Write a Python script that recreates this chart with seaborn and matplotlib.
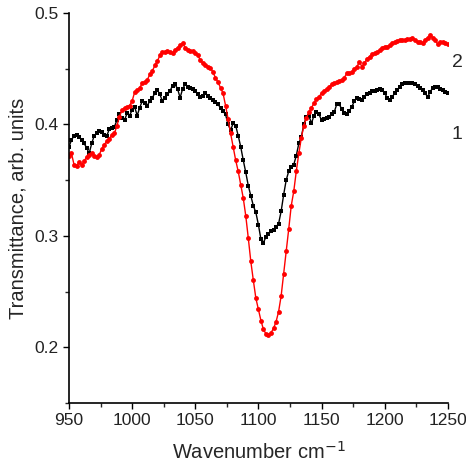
import numpy as np
import pandas as pd
import seaborn as sns
import matplotlib.pyplot as plt
from matplotlib.ticker import MultipleLocator

# wavenumber grid, cm-1 (one point every 2 cm-1)
wavenumber = list(range(950, 1252, 2))

# curve 1 (black)
trans_1 = [
    0.380, 0.386, 0.390, 0.391, 0.389, 0.386, 0.383, 0.379, 0.374, 0.383,
    0.390, 0.392, 0.394, 0.393, 0.391, 0.390, 0.396, 0.397, 0.398, 0.404,
    0.409, 0.406, 0.404, 0.410, 0.408, 0.413, 0.416, 0.408, 0.415, 0.421,
    0.419, 0.417, 0.421, 0.424, 0.428, 0.431, 0.427, 0.421, 0.424, 0.427,
    0.430, 0.435, 0.436, 0.432, 0.424, 0.432, 0.436, 0.434, 0.433, 0.432,
    0.430, 0.427, 0.425, 0.426, 0.428, 0.426, 0.424, 0.422, 0.420, 0.418,
    0.415, 0.412, 0.409, 0.400, 0.395, 0.401, 0.399, 0.390, 0.380, 0.368,
    0.357, 0.345, 0.336, 0.327, 0.321, 0.310, 0.297, 0.294, 0.299, 0.302,
    0.304, 0.305, 0.308, 0.311, 0.322, 0.337, 0.350, 0.358, 0.362, 0.364,
    0.372, 0.383, 0.389, 0.400, 0.407, 0.408, 0.401, 0.408, 0.411, 0.409,
    0.404, 0.405, 0.406, 0.407, 0.409, 0.411, 0.418, 0.418, 0.414, 0.410,
    0.409, 0.412, 0.416, 0.421, 0.424, 0.423, 0.422, 0.425, 0.427, 0.428,
    0.430, 0.430, 0.431, 0.432, 0.431, 0.428, 0.424, 0.422, 0.425, 0.428,
    0.431, 0.434, 0.436, 0.437, 0.437, 0.437, 0.437, 0.436, 0.435, 0.433,
    0.431, 0.428, 0.425, 0.429, 0.433, 0.434, 0.434, 0.432, 0.431, 0.429,
    0.428,
]

# curve 2 (red)
trans_2 = [
    0.372, 0.374, 0.364, 0.363, 0.366, 0.364, 0.367, 0.371, 0.373, 0.374,
    0.372, 0.371, 0.373, 0.378, 0.382, 0.385, 0.387, 0.391, 0.392, 0.399,
    0.407, 0.413, 0.415, 0.416, 0.417, 0.421, 0.429, 0.431, 0.433, 0.437,
    0.438, 0.440, 0.445, 0.448, 0.453, 0.457, 0.462, 0.465, 0.465, 0.466,
    0.465, 0.464, 0.467, 0.469, 0.471, 0.473, 0.469, 0.467, 0.466, 0.466,
    0.464, 0.462, 0.458, 0.455, 0.453, 0.452, 0.451, 0.447, 0.442, 0.438,
    0.433, 0.428, 0.417, 0.405, 0.392, 0.380, 0.368, 0.358, 0.346, 0.334,
    0.318, 0.298, 0.277, 0.260, 0.244, 0.234, 0.224, 0.216, 0.212, 0.211,
    0.213, 0.217, 0.223, 0.232, 0.246, 0.266, 0.286, 0.306, 0.327, 0.340,
    0.358, 0.374, 0.388, 0.399, 0.406, 0.411, 0.415, 0.419, 0.423, 0.425,
    0.428, 0.430, 0.432, 0.434, 0.436, 0.437, 0.438, 0.439, 0.440, 0.442,
    0.446, 0.446, 0.447, 0.450, 0.452, 0.456, 0.452, 0.455, 0.459, 0.461,
    0.463, 0.464, 0.465, 0.467, 0.469, 0.470, 0.470, 0.471, 0.473, 0.474,
    0.475, 0.476, 0.476, 0.476, 0.477, 0.477, 0.478, 0.476, 0.474, 0.474,
    0.473, 0.476, 0.478, 0.480, 0.478, 0.476, 0.472, 0.474, 0.474, 0.473,
    0.472,
]

df = pd.DataFrame({'wavenumber': wavenumber, 'curve1': trans_1, 'curve2': trans_2})

sns.set_style('ticks')
plt.rcParams['font.family'] = ['Liberation Sans', 'DejaVu Sans']

fig = plt.figure(figsize=(4.66, 4.68), dpi=100)
ax = fig.add_axes([0.148, 0.139, 0.813, 0.833])

sns.lineplot(data=df, x='wavenumber', y='curve1', ax=ax, color='black',
             marker='s', markersize=3, markeredgewidth=0, linewidth=1)
sns.lineplot(data=df, x='wavenumber', y='curve2', ax=ax, color='red',
             marker='o', markersize=3.5, markeredgewidth=0, linewidth=1)

ax.set_xlim(950, 1250)
ax.set_ylim(0.15, 0.5)
ax.xaxis.set_major_locator(MultipleLocator(50))
ax.xaxis.set_minor_locator(MultipleLocator(25))
ax.yaxis.set_major_locator(MultipleLocator(0.1))
ax.yaxis.set_minor_locator(MultipleLocator(0.05))
ax.tick_params(which='major', direction='out', length=4, width=1, labelsize=12.5,
               colors='black', labelcolor='#222222')
ax.tick_params(which='minor', direction='out', length=3, width=1)
ax.set_yticks([0.2, 0.3, 0.4, 0.5])
ax.set_yticklabels(['0.2', '0.3', '0.4', '0.5'])
for side in ['top', 'right']:
    ax.spines[side].set_visible(False)
for side in ['left', 'bottom']:
    ax.spines[side].set_linewidth(1.2)
    ax.spines[side].set_color('black')

ax.set_xlabel('Wavenumber cm$^{-1}$', fontsize=14.5, labelpad=9)
ax.set_ylabel('Transmittance, arb. units', fontsize=14.5, labelpad=5)

# curve numbers at the right end
ax.text(1253, 0.391, '1', fontsize=14, va='center', ha='left', clip_on=False)
ax.text(1253, 0.456, '2', fontsize=14, va='center', ha='left', clip_on=False)

fig.savefig('out.png', dpi=100)
